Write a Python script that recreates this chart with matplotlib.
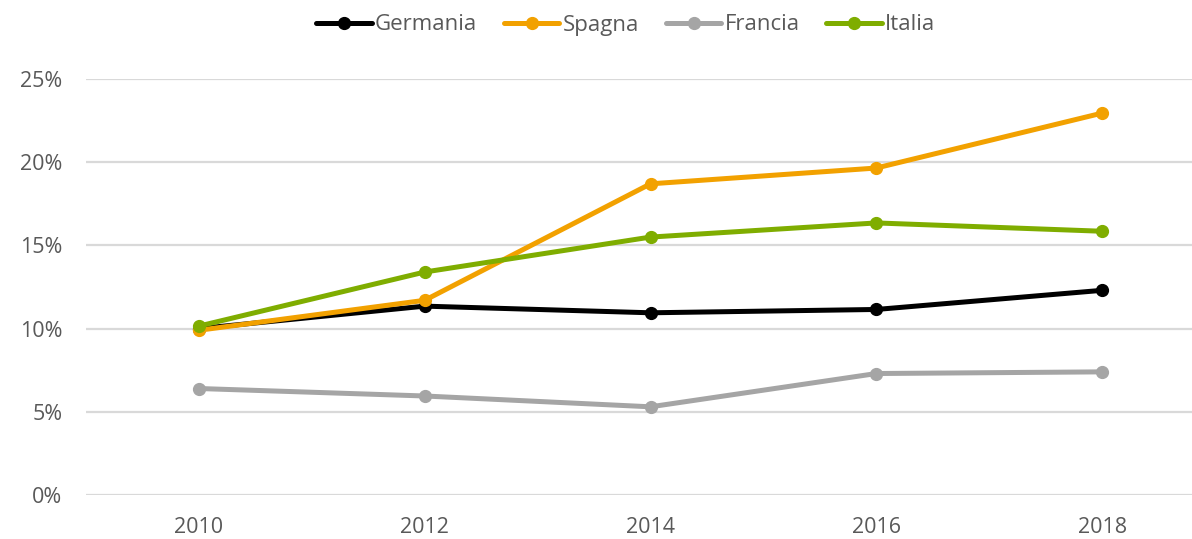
import matplotlib.pyplot as plt

plt.rcParams['font.family'] = ['Open Sans', 'DejaVu Sans']

# data (share, %)
years = ['2010', '2012', '2014', '2016', '2018']
germania = [10.0, 11.35, 10.95, 11.15, 12.3]
spagna = [9.9, 11.7, 18.7, 19.65, 22.95]
francia = [6.4, 5.95, 5.3, 7.3, 7.4]
italia = [10.15, 13.4, 15.5, 16.35, 15.85]

series = [('Germania', germania, '#000000'),
          ('Spagna', spagna, '#F2A100'),
          ('Francia', francia, '#A5A5A5'),
          ('Italia', italia, '#7FAD00')]

W, H = 1192, 539
fig = plt.figure(figsize=(W / 100, H / 100), dpi=100)
ax = fig.add_axes([86 / W, 44 / H, (W - 86) / W, 416 / H])

x = range(len(years))
for name, vals, col in series:
    ax.plot(x, vals, color=col, lw=3.6, marker='o', ms=8.5,
            label=name, solid_capstyle='round')

ax.set_ylim(0, 25)
ax.set_xlim(-0.5, 4.5 - 23 / 225.75)
ax.set_yticks(range(0, 26, 5))
ax.set_yticklabels([f'{v}%' for v in range(0, 26, 5)])
ax.set_xticks(list(x))
ax.set_xticklabels(years)
ax.grid(axis='y', color='#D9D9D9', lw=1.6)
ax.set_axisbelow(True)
for s in ax.spines.values():
    s.set_visible(False)
ax.tick_params(length=0, labelsize=15.5, colors='#595959')
ax.tick_params(axis='y', pad=17)
ax.tick_params(axis='x', pad=16)

fig.legend(loc='center', bbox_to_anchor=(0.525, 1 - 25 / H), ncol=4,
           frameon=False, fontsize=16, handlelength=2.5, handletextpad=0.15,
           columnspacing=1.2, labelcolor='#595959')

fig.savefig('out.png', dpi=100)
